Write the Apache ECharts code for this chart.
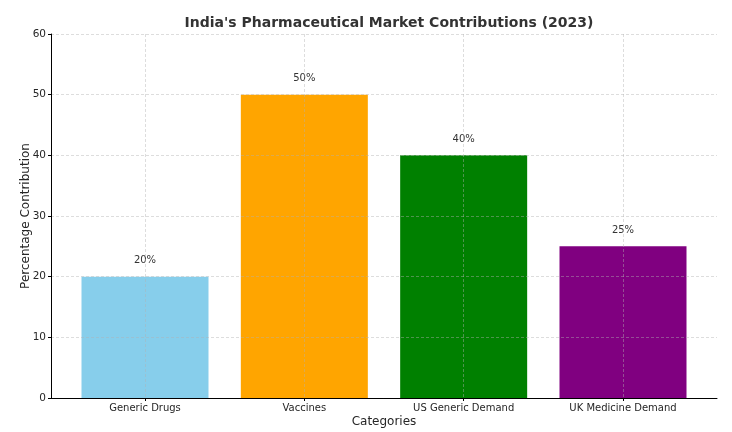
<!DOCTYPE html>
<html>
<head>
<meta charset="utf-8">
<script src="https://cdn.jsdelivr.net/npm/echarts@6/dist/echarts.min.js"></script>
<style>
  html, body { margin: 0; padding: 0; background: #fff; }
  #chart { width: 732px; height: 432px; }
</style>
</head>
<body>
<div id="chart"></div>
<script>
// Chart data
var categories = ['Generic Drugs', 'Vaccines', 'US Generic Demand', 'UK Medicine Demand'];
var contributions = [20, 50, 40, 25];
var barColors = ['#87CEEB', '#FFA500', '#008000', '#800080'];
var yTicks = [0, 10, 20, 30, 40, 50, 60];

(function() {
    'use strict';

    var font = 'DejaVu Sans';
    var gridColor = 'rgba(176,176,176,0.55)';
    var chart = echarts.init(document.getElementById('chart'));

    var barData = contributions.map(function(v, i) {
        return {
            value: [i, v],
            itemStyle: { color: barColors[i] }
        };
    });

    var option = {
        animation: false,
        title: {
            text: "India's Pharmaceutical Market Contributions (2023)",
            left: 384,
            textAlign: 'center',
            top: 11,
            textStyle: { fontFamily: font, fontSize: 14, fontWeight: 'bold', color: '#333' }
        },
        grid: [
            { left: 51, right: 15, top: 34, bottom: 34, outerBoundsMode: 'none' },
            { left: 145, right: 109, top: 34, bottom: 34, outerBoundsMode: 'none' }
        ],
        xAxis: [{
            // frame axis: only the bottom line and the name
            gridIndex: 0,
            type: 'value',
            min: 0,
            max: 1,
            z: 6,
            axisLine: { show: true, lineStyle: { color: '#000', width: 1, type: 'solid' } },
            axisTick: { show: false },
            axisLabel: { show: false },
            splitLine: { show: false },
            name: 'Categories',
            nameLocation: 'middle',
            nameGap: 18,
            nameTextStyle: { fontFamily: font, fontSize: 12, color: '#262626' }
        }, {
            gridIndex: 1,
            type: 'value',
            min: 0,
            max: categories.length - 1,
            interval: 1,
            z: 5,
            axisLine: { show: false },
            axisTick: { show: true, length: 3, lineStyle: { color: '#000' } },
            axisLabel: {
                fontFamily: font, fontSize: 10, color: '#262626', margin: 5,
                formatter: function(v) { return categories[v] || ''; }
            },
            splitLine: { show: true, lineStyle: { color: gridColor, type: [3, 2], width: 0.8 } }
        }],
        yAxis: [{
            gridIndex: 0,
            type: 'value',
            min: yTicks[0],
            max: yTicks[yTicks.length - 1],
            interval: 10,
            z: 5,
            axisLine: { show: true, lineStyle: { color: '#000', width: 1 } },
            axisTick: { show: true, length: 3, lineStyle: { color: '#000' } },
            axisLabel: { fontFamily: font, fontSize: 10.5, color: '#262626', margin: 5 },
            splitLine: { show: true, lineStyle: { color: gridColor, type: [3, 2], width: 0.8 } },
            name: 'Percentage Contribution',
            nameLocation: 'middle',
            nameGap: 19,
            nameMoveOverlap: false,
            nameTextStyle: { fontFamily: font, fontSize: 12, color: '#262626' }
        }, {
            gridIndex: 1,
            type: 'value',
            min: yTicks[0],
            max: yTicks[yTicks.length - 1],
            show: false
        }],
        series: [{
            type: 'bar',
            xAxisIndex: 1,
            yAxisIndex: 1,
            z: 2,
            clip: false,
            barWidth: 127,
            data: barData,
            label: {
                show: true,
                position: 'top',
                distance: 11,
                fontFamily: font,
                fontSize: 10,
                color: '#333',
                formatter: function(p) { return p.value[1] + '%'; }
            }
        }]
    };

    chart.setOption(option);
})();
</script>
</body>
</html>
